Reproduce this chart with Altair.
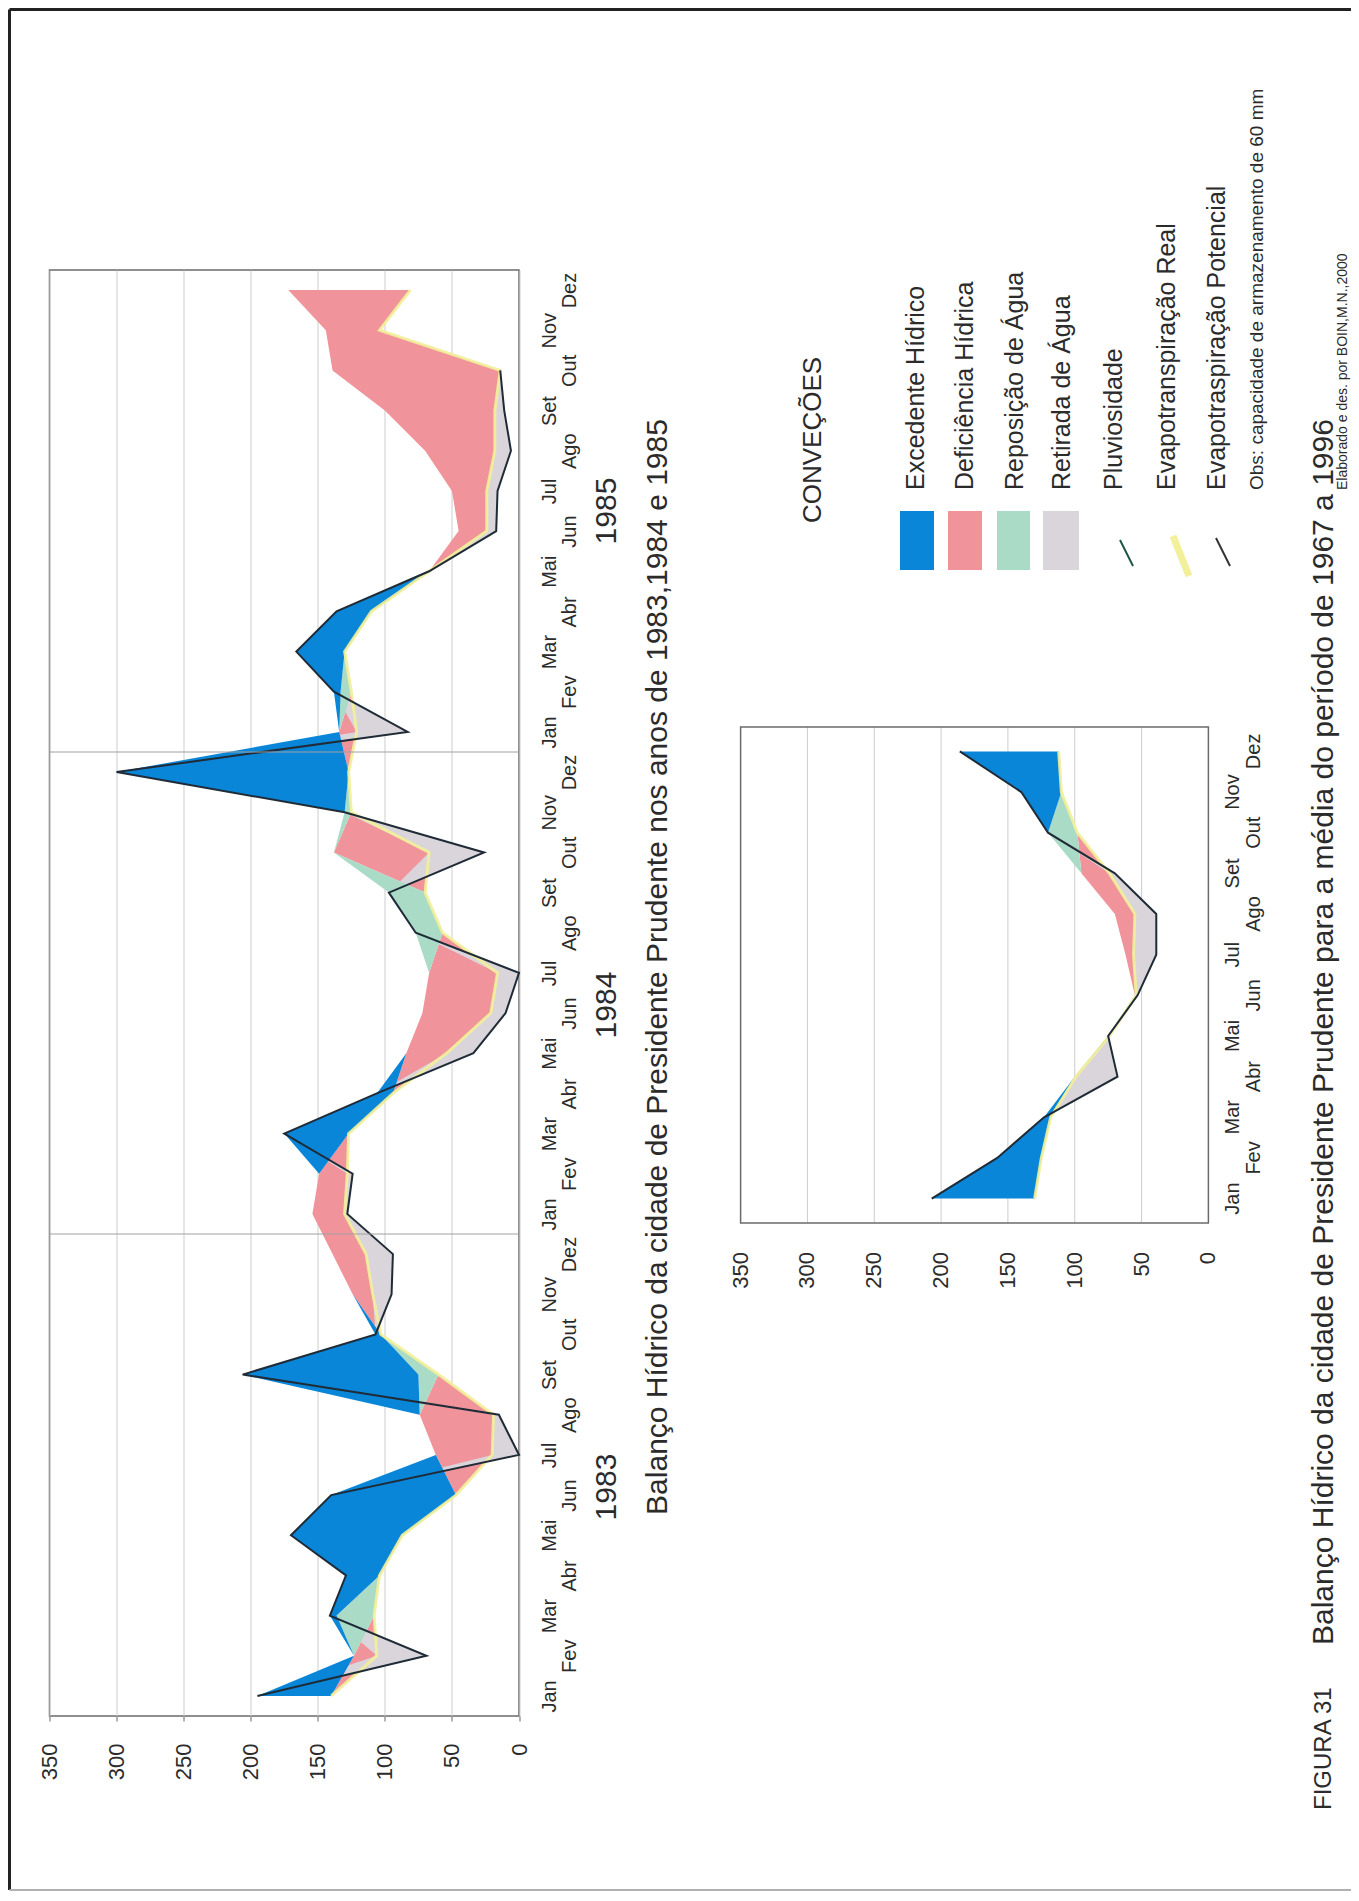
import altair as alt
import pandas as pd

# ---------------- data ----------------
MONTHS = ["Jan", "Fev", "Mar", "Abr", "Mai", "Jun", "Jul", "Ago", "Set", "Out", "Nov", "Dez"]
YEARS = ["1983", "1984", "1985"]
YEAR_POS = [5.2, 17.2, 29.5]          # month index where each year label sits
VALUE_TICKS = [0, 50, 100, 150, 200, 250, 300, 350]

# 1983-1985 (mm)
PLUV_MAIN = [195, 69, 141, 129, 170, 140, 0, 15, 206, 107, 95, 94,
             128, 124, 175, 106, 34, 10, 0, 77, 97, 26, 130, 300,
             83, 138, 166, 136, 67, 17, 16, 6, 11, 14, None, None]
ETP_MAIN = [140, 123, 108, 104, 87, 47, 62, 74, 60, 103, 124, 139,
            154, 149, 127, 94, 84, 72, 67, 57, 70, 138, 125, 127,
            134, 125, 130, 110, 67, 45, 50, 70, 100, 139, 144, 172]
ETR_MAIN = [140, 106, 108, 104, 87, 47, 20, 19, 60, 103, 109, 114,
            130, 128, 127, 94, 54, 21, 16, 57, 70, 67, 125, 127,
            121, 125, 130, 110, 67, 24, 24, 18, 18, 14, 104, 81]
REPO_MAIN = [0, 0, 28, 0, 0, 0, 0, 0, 15, 0, 0, 0,
             0, 0, 0, 0, 0, 0, 0, 20, 27, 0, 5, 0,
             0, 8, 0, 0, 0, 0, 0, 0, 0, 0, 0, 0]

# média 1967-1996 (mm)
PLUV_AVG = [207, 158, 123, 68, 75, 53, 39, 39, 70, 120, 140, 186]
ETP_AVG = [130, 125, 118, 100, 74, 55, 62, 70, 95, 98, 110, 112]
ETR_AVG = [130, 125, 118, 99, 74, 54, 56, 55, 74, 98, 110, 112]
REPO_AVG = [0, 0, 0, 0, 0, 0, 0, 0, 0, 22, 0, 0]

LEGEND_ITEMS = ["Excedente Hídrico", "Deficiência Hídrica", "Reposição de Água",
                "Retirada de Água", "Pluviosidade", "Evapotranspiração Real",
                "Evapotraspiração Potencial"]
LEGEND_TITLE = "CONVEÇÕES"
OBS = "Obs: capacidade de armazenamento de 60 mm"
TITLE_MAIN = "Balanço Hídrico da cidade de Presidente Prudente nos anos de 1983,1984 e 1985"
FIG_LABEL = "FIGURA 31"
CAPTION = "Balanço Hídrico  da cidade de Presidente Prudente para a média do período de 1967 a 1996"
CREDIT = "Elaborado e des. por BOIN,M.N.,2000"

# ---------------- style ----------------
FONT = "Liberation Sans"
TXT = "#2b2b2b"
BLUE = "#0A86D9"
PINK = "#F0939A"
GREEN = "#A9DBC6"
GRAY = "#D9D5DA"
PLINE = "#1F2B36"
ERLINE = "#F2F09A"
GRID = "#CDCDCD"
BORDER = "#6b6b6b"

W, H = 469.5, 1446            # main plot area
OX, OY = 49.5, 270            # page position of main plot origin


def lx(X):
    return X - OX


def ly(Y):
    return Y - OY


def band_table(P, EP, ER, REP):
    rows = []
    for i, (p, ep, er, rp) in enumerate(zip(P, EP, ER, REP)):
        pp = er if p is None else p
        top = ep + rp
        rows.append(dict(m=i, P=p, EP=ep, ER=er,
                         pink_lo=er, pink_hi=ep,
                         gray_lo=pp, gray_hi=max(pp, er),
                         green_lo=ep, green_hi=top,
                         blue_lo=top, blue_hi=max(pp, top)))
    return pd.DataFrame(rows)


# ---------------- main chart (1983-1985) ----------------
x_main = alt.Scale(domain=[0, 350], reverse=True, nice=False, zero=False)
y_main = alt.Scale(domain=[-0.5, 35.5], nice=False, zero=False)
x_axis = alt.Axis(values=VALUE_TICKS, orient="bottom", labelAngle=270, labelAlign="right",
                  labelBaseline="middle", labelPadding=22, tickSize=5, tickColor="#666",
                  domain=False, grid=True, gridColor=GRID, gridWidth=1, labelFontSize=22,
                  labelColor=TXT, title=None, labelOverlap=False, labelFlush=False)
month_expr = "[" + ",".join("'%s'" % m for m in MONTHS) + "][datum.value % 12]"
y_axis = alt.Axis(values=list(range(36)), orient="right", labelExpr=month_expr, labelAngle=270,
                  labelAlign="center", labelBaseline="top",
                  labelPadding={"condition": {"test": "datum.value % 2 == 1", "value": 40}, "value": 20},
                  ticks=False, tickSize=0, domain=False, grid=False, labelFontSize=20,
                  labelColor=TXT, title=None, labelOverlap=False, labelBound=False, labelFlush=False)


def mx(field):
    return alt.X(field, type="quantitative", scale=x_main, axis=x_axis, stack=None)


def my(field="m"):
    return alt.Y(field, type="quantitative", scale=y_main, axis=y_axis)


main_df = band_table(PLUV_MAIN, ETP_MAIN, ETR_MAIN, REPO_MAIN)


def bands(df, xf, yf):
    out = []
    for lo, hi, col in [("pink_lo", "pink_hi", PINK), ("gray_lo", "gray_hi", GRAY),
                        ("green_lo", "green_hi", GREEN), ("blue_lo", "blue_hi", BLUE)]:
        out.append(alt.Chart(df).mark_area(orient="horizontal", color=col, opacity=1)
                   .encode(x=xf(lo), x2=alt.X2(hi), y=yf("m")))
    out.append(alt.Chart(df).mark_line(color=ERLINE, strokeWidth=3, opacity=0.9)
               .encode(x=xf("ER"), y=yf("m"), order=alt.Order("m:Q")))
    out.append(alt.Chart(df.dropna(subset=["P"])).mark_line(color=PLINE, strokeWidth=2)
               .encode(x=xf("P"), y=yf("m"), order=alt.Order("m:Q")))
    return out


main_layers = bands(main_df, mx, my)
sep = alt.Chart(pd.DataFrame({"m": [11.5, 23.5]})).mark_rule(color="#a0a0a0", strokeWidth=1).encode(
    y=my("m"), x=alt.value(0), x2=alt.value(W))
years = alt.Chart(pd.DataFrame({"m": YEAR_POS, "ano": YEARS})).mark_text(
    angle=270, fontSize=30, align="center", baseline="middle", color=TXT).encode(
    y=my("m"), x=alt.value(lx(607)), text="ano:N")
main_group = alt.layer(*main_layers, sep, years)

# ---------------- small chart (média 1967-1996) ----------------
sx = alt.Scale(domain=[0, 350], range=[lx(1208.4), lx(740.6)], nice=False, zero=False)
sy = alt.Scale(domain=[-0.6, 11.6], range=[ly(1223), ly(727)], nice=False, zero=False)


def sxf(field):
    return alt.X(field, type="quantitative", scale=sx, axis=None, stack=None)


def syf(field="m"):
    return alt.Y(field, type="quantitative", scale=sy, axis=None)


avg_df = band_table(PLUV_AVG, ETP_AVG, ETR_AVG, REPO_AVG)
grid_small = alt.Chart(pd.DataFrame({"v": VALUE_TICKS[1:-1]})).mark_rule(color=GRID, strokeWidth=1).encode(
    x=sxf("v"), y=alt.YDatum(-0.6, scale=sy, axis=None), y2=alt.datum(11.6))
small_layers = bands(avg_df, sxf, syf)
box_small = alt.Chart(pd.DataFrame({"a": [0]})).mark_rect(filled=False, stroke=BORDER, strokeWidth=1.5).encode(
    x=alt.XDatum(0, scale=sx, axis=None), x2=alt.datum(350),
    y=alt.YDatum(-0.6, scale=sy, axis=None), y2=alt.datum(11.6))
tick_small = alt.Chart(pd.DataFrame({"v": VALUE_TICKS})).mark_text(
    angle=270, align="right", baseline="middle", fontSize=22, color=TXT).encode(
    x=sxf("v"), y=alt.value(ly(1252)), text="v:Q")
mon_df = pd.DataFrame({"m": list(range(12)), "mes": MONTHS})
mon_near = alt.Chart(mon_df).transform_filter("datum.m % 2 == 0").mark_text(
    angle=270, align="center", baseline="middle", fontSize=20, color=TXT).encode(
    y=syf("m"), x=alt.value(lx(1233)), text="mes:N")
mon_far = alt.Chart(mon_df).transform_filter("datum.m % 2 == 1").mark_text(
    angle=270, align="center", baseline="middle", fontSize=20, color=TXT).encode(
    y=syf("m"), x=alt.value(lx(1254)), text="mes:N")
small_group = alt.layer(grid_small, *small_layers, box_small, tick_small, mon_near, mon_far)


# ---------------- annotations ----------------
def ann_text(txt, X, Y, size, align="center"):
    return alt.Chart(pd.DataFrame({"t": [txt]})).mark_text(
        angle=270, align=align, baseline="middle", fontSize=size, color=TXT).encode(
        x=alt.value(lx(X)), y=alt.value(ly(Y)), text="t:N")


def ann_rect(X0, X1, Y0, Y1, color):
    return alt.Chart(pd.DataFrame({"a": [0]})).mark_rect(color=color).encode(
        x=alt.value(lx(X0)), x2=alt.value(lx(X1)), y=alt.value(ly(Y0)), y2=alt.value(ly(Y1)))


def ann_rule(X0, Y0, X1, Y1, color, width):
    return alt.Chart(pd.DataFrame({"a": [0]})).mark_rule(color=color, strokeWidth=width).encode(
        x=alt.value(lx(X0)), x2=alt.value(lx(X1)), y=alt.value(ly(Y0)), y2=alt.value(ly(Y1)))


ann = []
ann.append(ann_text(TITLE_MAIN, 658, 967, 30))
ann.append(ann_text(LEGEND_TITLE, 813, 440, 26))
swatch_x = [(900, 934), (948, 982), (997, 1030), (1043, 1079)]
for (x0, x1), col in zip(swatch_x, [BLUE, PINK, GREEN, GRAY]):
    ann.append(ann_rect(x0, x1, 511, 570, col))
ann.append(ann_rule(1120, 540, 1133, 566, "#1E5548", 2))
ann.append(ann_rule(1173, 536, 1189, 576, ERLINE, 7))
ann.append(ann_rule(1216, 538, 1230, 566, "#333333", 2))
label_x = [916, 965, 1015, 1062, 1114, 1167, 1217]
for t, X in zip(LEGEND_ITEMS, label_x):
    ann.append(ann_text(t, X, 490, 25, align="left"))
ann.append(ann_text(OBS, 1257, 490, 19, align="left"))
ann.append(ann_text(FIG_LABEL, 1324, 1810, 24, align="left"))
ann.append(ann_text(CAPTION, 1324, 1645, 30, align="left"))
ann.append(ann_text(CREDIT, 1343, 490, 14, align="left"))
# page frame
ann.append(ann_rule(9.5, 9.5, 9.5, 1890, "#222222", 3))
ann.append(ann_rule(9.5, 9.5, 1351, 9.5, "#222222", 3))
ann.append(ann_rule(9.5, 1890, 1351, 1890, "#b0b0b0", 2))

chart = alt.layer(main_group, small_group, *ann).resolve_scale(
    x="independent", y="independent"
).properties(
    width=W, height=H,
    autosize=alt.AutoSizeParams(type="none"),
    padding={"left": OX - 8, "top": OY - 8, "right": 1343 - (OX - 8) - W, "bottom": 1885 - (OY - 8) - H},
).configure(font=FONT).configure_view(stroke=BORDER, strokeWidth=1.5)

chart.save("out.html", embed_options={"renderer": "svg", "actions": False})
